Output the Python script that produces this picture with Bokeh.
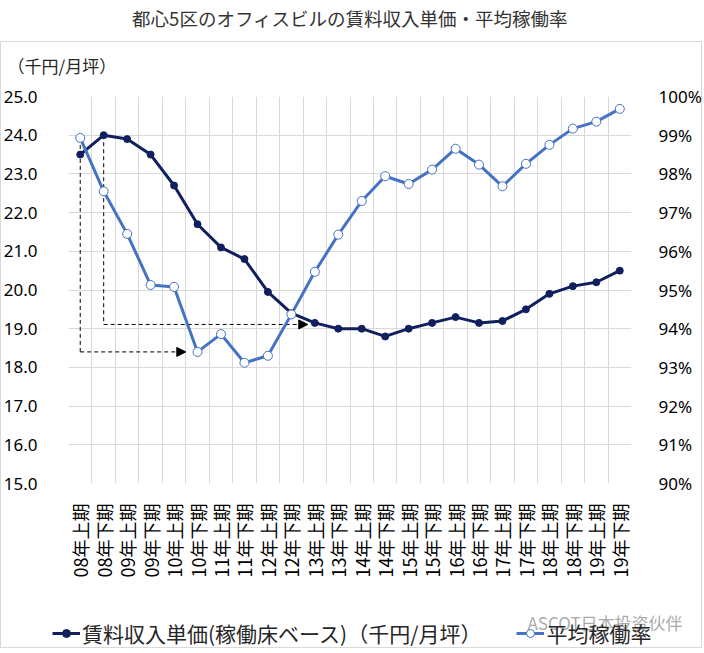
from math import pi
from bokeh.plotting import figure
from bokeh.layouts import column
from bokeh.models import (Range1d, LinearAxis, FixedTicker, PrintfTickFormatter,
                          CustomJSTickFormatter, Legend, LegendItem, Title, Arrow,
                          NormalHead, Label)
from bokeh.embed import file_html
from bokeh.resources import INLINE

# ---------------- data ----------------
period_labels = ["08年上期", "08年下期", "09年上期", "09年下期", "10年上期", "10年下期",
                 "11年上期", "11年下期", "12年上期", "12年下期", "13年上期", "13年下期",
                 "14年上期", "14年下期", "15年上期", "15年下期", "16年上期", "16年下期",
                 "17年上期", "17年下期", "18年上期", "18年下期", "19年上期", "19年下期"]
rent = [23.5, 24.0, 23.9, 23.5, 22.7, 21.7, 21.1, 20.8, 19.95, 19.4, 19.15, 19.0,
        19.0, 18.8, 19.0, 19.15, 19.3, 19.15, 19.2, 19.5, 19.9, 20.1, 20.2, 20.5]
occupancy = [98.93, 97.55, 96.45, 95.13, 95.08, 93.40, 93.86, 93.12, 93.30, 94.37, 95.47, 96.43,
             97.30, 97.94, 97.74, 98.11, 98.65, 98.24, 97.68, 98.26, 98.75, 99.17, 99.35, 99.68]
rent_ticks = [15.0, 16.0, 17.0, 18.0, 19.0, 20.0, 21.0, 22.0, 23.0, 24.0, 25.0]
occ_ticks = [90, 91, 92, 93, 94, 95, 96, 97, 98, 99, 100]

title_text = "都心5区のオフィスビルの賃料収入単価・平均稼働率"
unit_text = "（千円/月坪）"
rent_name = "賃料収入単価(稼働床ベース)（千円/月坪）"
occ_name = "平均稼働率"
watermark = "ASCOT日本投资伙伴"

NAVY = "#10205e"
BLUE = "#4472c4"
GRID = "#d9d9d9"
JP = "Noto Sans CJK JP"

W, H_MAIN, H_LEG = 704, 600, 53

n = len(period_labels)
xs = [i + 0.5 for i in range(n)]

p = figure(width=W, height=H_MAIN, output_backend="svg", toolbar_location=None,
           x_range=Range1d(0, n), y_range=Range1d(rent_ticks[0], rent_ticks[-1]),
           min_border_left=64, min_border_right=70, min_border_top=96, min_border_bottom=117)
p.outline_line_color = None
p.background_fill_color = "white"
p.border_fill_color = None
p.extra_y_ranges = {"occ": Range1d(occ_ticks[0], occ_ticks[-1])}

# titles (above panel): main title outermost, unit label next to the frame
p.title.text = title_text
p.title.align = "center"
p.title.standoff = 4
p.title.text_font = JP
p.title.text_font_size = "18.5px"
p.title.text_font_style = "normal"
p.title.text_color = "#333333"
unit_title = Title(text=unit_text, align="left", offset=-61, standoff=37,
                   text_font=JP, text_font_size="17px", text_font_style="normal",
                   text_color="#262626")
p.add_layout(unit_title, "above")

# grids
p.xgrid.ticker = FixedTicker(ticks=list(range(n + 1)), minor_ticks=[])
p.ygrid.ticker = FixedTicker(ticks=rent_ticks, minor_ticks=[])
p.grid.grid_line_color = GRID
p.grid.grid_line_width = 1

# x axis
xa = p.xaxis[0]
xa.ticker = FixedTicker(ticks=xs, minor_ticks=[])
xa.formatter = CustomJSTickFormatter(args=dict(labels=period_labels),
                                     code="return labels[Math.floor(tick)];")
xa.major_label_orientation = pi / 2
xa.axis_line_color = None
xa.major_tick_line_color = None
xa.minor_tick_line_color = None
xa.major_label_text_font = JP
xa.major_label_text_font_size = "18px"
xa.major_label_text_color = "#000000"
xa.major_label_standoff = 14

# left axis
ya = p.yaxis[0]
ya.ticker = FixedTicker(ticks=rent_ticks, minor_ticks=[])
ya.formatter = PrintfTickFormatter(format="%.1f")
ya.axis_line_color = None
ya.major_tick_line_color = None
ya.minor_tick_line_color = None
ya.major_label_text_font = "Noto Sans"
ya.major_label_text_font_size = "17px"
ya.major_label_text_color = "#000000"
ya.major_label_standoff = 25

# right axis
ra = LinearAxis(y_range_name="occ", ticker=FixedTicker(ticks=occ_ticks, minor_ticks=[]),
                formatter=PrintfTickFormatter(format="%d%%"))
ra.axis_line_color = None
ra.major_tick_line_color = None
ra.minor_tick_line_color = None
ra.major_label_text_font = "Noto Sans"
ra.major_label_text_font_size = "17px"
ra.major_label_text_color = "#000000"
ra.major_label_standoff = 21
p.add_layout(ra, "right")

# dashed guide arrows (peak -> trough)
i_occ_peak, i_occ_low = 0, 5
i_rent_peak, i_rent_low = 1, 10
dash = "4 3"
a1v = Arrow(end=None, x_start=xs[i_occ_peak], y_start=occupancy[i_occ_peak],
            x_end=xs[i_occ_peak], y_end=occupancy[i_occ_low], y_range_name="occ",
            line_dash=dash, line_width=1, line_color="black", level="underlay")
a1h = Arrow(end=NormalHead(size=9, fill_color="black", line_color="black", line_width=1),
            x_start=xs[i_occ_peak], y_start=occupancy[i_occ_low],
            x_end=xs[i_occ_low] - 0.5, y_end=occupancy[i_occ_low], y_range_name="occ",
            line_dash=dash, line_width=1, line_color="black", level="underlay")
a2v = Arrow(end=None, x_start=xs[i_rent_peak], y_start=rent[i_rent_peak],
            x_end=xs[i_rent_peak], y_end=rent[i_rent_low] - 0.04,
            line_dash=dash, line_width=1, line_color="black", level="underlay")
a2h = Arrow(end=NormalHead(size=9, fill_color="black", line_color="black", line_width=1),
            x_start=xs[i_rent_peak], y_start=rent[i_rent_low] - 0.04,
            x_end=xs[i_rent_low] - 0.3, y_end=rent[i_rent_low] - 0.04,
            line_dash=dash, line_width=1, line_color="black", level="underlay")
for a in (a1v, a1h, a2v, a2h):
    p.add_layout(a)

# series
r1 = p.line(xs, rent, line_color=NAVY, line_width=3)
s1 = p.scatter(xs, rent, size=7, fill_color=NAVY, line_color=NAVY)
r2 = p.line(xs, occupancy, y_range_name="occ", line_color=BLUE, line_width=3)
s2 = p.scatter(xs, occupancy, y_range_name="occ", size=9, fill_color="white",
               line_color=BLUE, line_width=1)

# ---------------- legend strip (second figure, pixel-sized frame) ----------------
q = figure(width=W, height=H_LEG, output_backend="svg", toolbar_location=None,
           x_range=Range1d(0, W), y_range=Range1d(0, H_LEG), title=None,
           x_axis_location=None, y_axis_location=None, min_border=0)
try:
    q.frame_align = False
except Exception:
    pass
q.outline_line_color = None
q.grid.visible = False
q.background_fill_color = None
q.border_fill_color = None
# the series are repeated here on an off-screen range, only to feed the legend swatches
q.extra_x_ranges = {"off": Range1d(-200, -100)}
q.extra_y_ranges = {"off": Range1d(-200, -100)}
l1 = q.line(xs, rent, x_range_name="off", y_range_name="off", line_color=NAVY, line_width=3)
m1 = q.scatter(xs, rent, x_range_name="off", y_range_name="off", size=7,
               fill_color=NAVY, line_color=NAVY)
l2 = q.line(xs, occupancy, x_range_name="off", y_range_name="off", line_color=BLUE,
            line_width=3)
m2 = q.scatter(xs, occupancy, x_range_name="off", y_range_name="off", size=9,
               fill_color="white", line_color=BLUE, line_width=1)

legend = Legend(items=[LegendItem(label=rent_name, renderers=[l1, m1]),
                       LegendItem(label=occ_name, renderers=[l2, m2])],
                location=(52, 5), orientation="horizontal",
                glyph_width=28, glyph_height=20, label_standoff=2, spacing=35,
                padding=0, margin=0, border_line_color=None, background_fill_alpha=0,
                label_text_font=JP, label_text_font_size="21px", label_text_color="#262626",
                label_height=20)
q.add_layout(legend)

q.add_layout(Label(x=527, y=31, text=watermark, text_font="Noto Sans CJK SC",
                   text_font_size="17px", text_color="#8c8c8c", text_alpha=0.75,
                   text_align="left", text_baseline="middle", level="overlay"))

# light grey chart-area box behind both canvases (drawn with CSS gradients)
g = "linear-gradient(#d9d9d9,#d9d9d9)"
box_css = (f"{g} 0px 41px / 702px 1px no-repeat, "
           f"{g} 0px 41px / 1px 607px no-repeat, "
           f"{g} 701px 41px / 1px 607px no-repeat, "
           f"{g} 0px 647px / 702px 1px no-repeat, #ffffff")
layout = column(p, q, spacing=0, styles={"background": box_css})
open("out.html", "w").write(file_html(layout, INLINE))
